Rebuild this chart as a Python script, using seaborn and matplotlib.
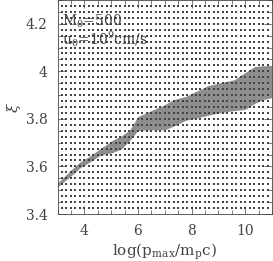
import matplotlib
matplotlib.use("Agg")
import matplotlib.pyplot as plt
from matplotlib.ticker import MultipleLocator
import seaborn as sns
import pandas as pd

# scan grid (log p_max values and xi values of the sampled models)
grid_logp = [3.167, 3.333, 3.5, 3.667, 3.833, 4.0, 4.167, 4.333, 4.5, 4.667, 4.833,
             5.0, 5.167, 5.333, 5.5, 5.667, 5.833, 6.0, 6.167, 6.333, 6.5, 6.667, 6.833,
             7.0, 7.167, 7.333, 7.5, 7.667, 7.833, 8.0, 8.167, 8.333, 8.5, 8.667, 8.833,
             9.0, 9.167, 9.333, 9.5, 9.667, 9.833, 10.0, 10.167, 10.333, 10.5, 10.667, 10.833]
grid_xi = [3.425, 3.45, 3.475, 3.5, 3.525, 3.55, 3.575, 3.6, 3.625, 3.65, 3.675, 3.7,
           3.725, 3.75, 3.775, 3.8, 3.825, 3.85, 3.875, 3.9, 3.925, 3.95, 3.975, 4.0,
           4.025, 4.05, 4.075, 4.1, 4.125, 4.15, 4.175, 4.2, 4.225, 4.25, 4.275]

# allowed region (boundaries)
region_logp = [3.0, 3.5, 3.85, 4.15, 4.6, 5.05, 5.4, 5.7, 6.0, 6.5, 7.0, 7.3, 7.8, 8.05,
               8.35, 8.6, 9.0, 9.6, 9.85, 10.0, 10.35, 10.65, 11.0]
region_upper = [3.53, 3.585, 3.62, 3.64, 3.675, 3.71, 3.73, 3.755, 3.81, 3.835, 3.86, 3.88,
                3.895, 3.91, 3.925, 3.94, 3.95, 3.965, 3.985, 3.995, 4.02, 4.023, 4.025]
region_lower = [3.514, 3.56, 3.595, 3.615, 3.648, 3.658, 3.675, 3.71, 3.752, 3.754, 3.754,
                3.768, 3.795, 3.80, 3.808, 3.815, 3.825, 3.835, 3.838, 3.84, 3.865, 3.88, 3.89]

xticks = [4, 6, 8, 10]
yticks = [3.4, 3.6, 3.8, 4.0, 4.2]
ytick_labels = ["3.4", "3.6", "3.8", "4", "4.2"]

sns.set_style("ticks")
plt.rcParams["font.family"] = ["DejaVu Serif"]
plt.rcParams["mathtext.fontset"] = "dejavuserif"

fig = plt.figure(figsize=(2.73, 2.61), dpi=100)
ax = fig.add_axes([57.5 / 273, 47 / 261, (272 - 57.5) / 273, 214 / 261])

ax.fill_between(region_logp, region_lower, region_upper,
                color="#8e8e8e", linewidth=0, zorder=1)

pts = pd.DataFrame([(x, y) for x in grid_logp for y in grid_xi], columns=["logp", "xi"])
sns.scatterplot(data=pts, x="logp", y="xi", ax=ax, s=1.3, marker="s",
                color="#444444", linewidth=0, zorder=2, legend=False)

ax.set_xlim(3, 11)
ax.set_ylim(3.4, 4.3)
ax.set_xticks(xticks)
ax.set_yticks(yticks)
ax.set_yticklabels(ytick_labels)
ax.xaxis.set_minor_locator(MultipleLocator(0.5))
ax.yaxis.set_minor_locator(MultipleLocator(0.05))
ax.tick_params(which="both", direction="in", top=True, right=True, width=0.5, colors="#444444")
ax.tick_params(which="major", length=5.5, labelsize=10)
ax.tick_params(which="minor", length=3)
ax.tick_params(axis="y", which="major", pad=7)
ax.tick_params(axis="x", which="major", pad=7)
for s in ax.spines.values():
    s.set_linewidth(0.6)
    s.set_color("#444444")

ax.set_xlabel(r"log(p$_{\rm max}$/m$_{\rm p}$c)", fontsize=11, color="#444444", labelpad=3)
ax.set_ylabel(r"$\xi$", fontsize=11, color="#444444", labelpad=2)

ax.text(0.02, 0.90, r"M$_0$=500", transform=ax.transAxes, fontsize=10,
        color="#444444", va="center", ha="left")
ax.text(0.02, 0.815, r"u$_0$=10$^9$cm/s", transform=ax.transAxes, fontsize=10,
        color="#444444", va="center", ha="left")

fig.savefig("out.png", dpi=100)
